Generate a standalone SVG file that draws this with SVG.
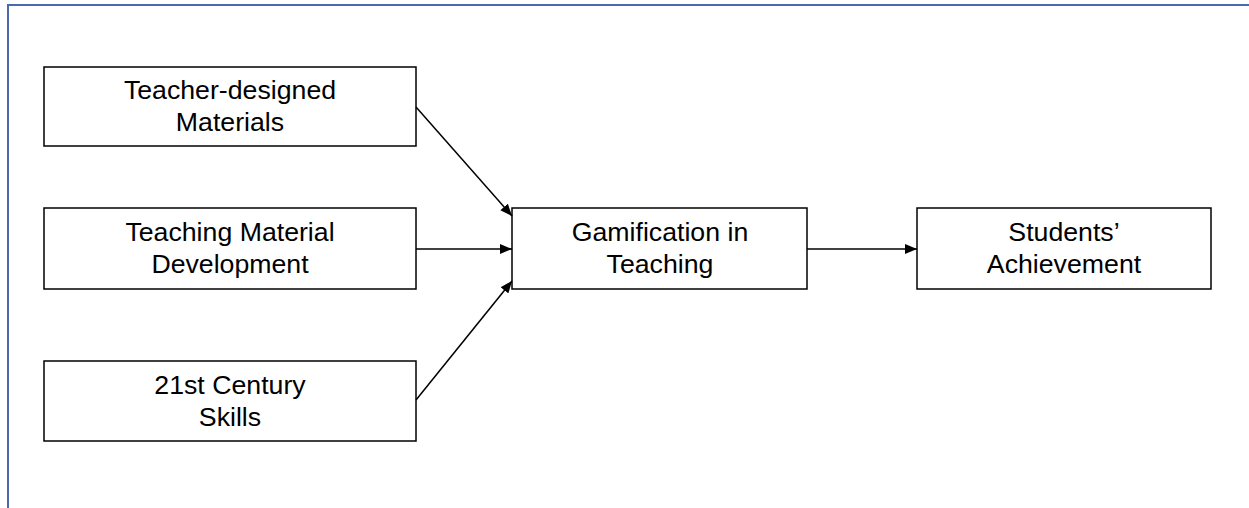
<svg xmlns="http://www.w3.org/2000/svg" width="1249" height="508" viewBox="0 0 1249 508">
<defs>
<style>
.frame{fill:none;stroke:#4a6aab;stroke-width:2}
.box{fill:#fff;stroke:#000;stroke-width:1.5}
.lbl{font-family:"Liberation Sans",Arial,sans-serif;font-size:26.7px;fill:#000;text-anchor:middle}
.conn{fill:none;stroke:#000;stroke-width:1.5}
</style>
<marker id="ah" viewBox="0 0 12 10" refX="12" refY="5" markerWidth="12" markerHeight="10" markerUnits="userSpaceOnUse" orient="auto">
<path d="M0,0 L12,5 L0,10 Z" fill="#000"/>
</marker>
</defs>
<rect x="0" y="0" width="1249" height="508" fill="#fff"/>
<path class="frame" d="M8,508 L8,5 L1249,5"/>
<g id="n1">
<rect class="box" x="44" y="67" width="372" height="79"/>
<text class="lbl" x="230" y="99">Teacher-designed</text>
<text class="lbl" x="230" y="131">Materials</text>
</g>
<g id="n2">
<rect class="box" x="44" y="208" width="372" height="81"/>
<text class="lbl" x="230" y="241">Teaching Material</text>
<text class="lbl" x="230" y="273">Development</text>
</g>
<g id="n3">
<rect class="box" x="44" y="361" width="372" height="80"/>
<text class="lbl" x="230" y="394">21st Century</text>
<text class="lbl" x="230" y="426">Skills</text>
</g>
<g id="n4">
<rect class="box" x="512" y="208" width="295" height="81"/>
<text class="lbl" x="660" y="241">Gamification in</text>
<text class="lbl" x="660" y="273">Teaching</text>
</g>
<g id="n5">
<rect class="box" x="917" y="208" width="294" height="81"/>
<text class="lbl" x="1064" y="241">Students’</text>
<text class="lbl" x="1064" y="273">Achievement</text>
</g>
<g id="connectors">
<line class="conn" x1="416" y1="107" x2="512" y2="216" marker-end="url(#ah)"/>
<line class="conn" x1="416" y1="249" x2="512" y2="249" marker-end="url(#ah)"/>
<line class="conn" x1="416" y1="400" x2="512" y2="281" marker-end="url(#ah)"/>
<line class="conn" x1="807" y1="249" x2="917" y2="249" marker-end="url(#ah)"/>
</g>
</svg>
